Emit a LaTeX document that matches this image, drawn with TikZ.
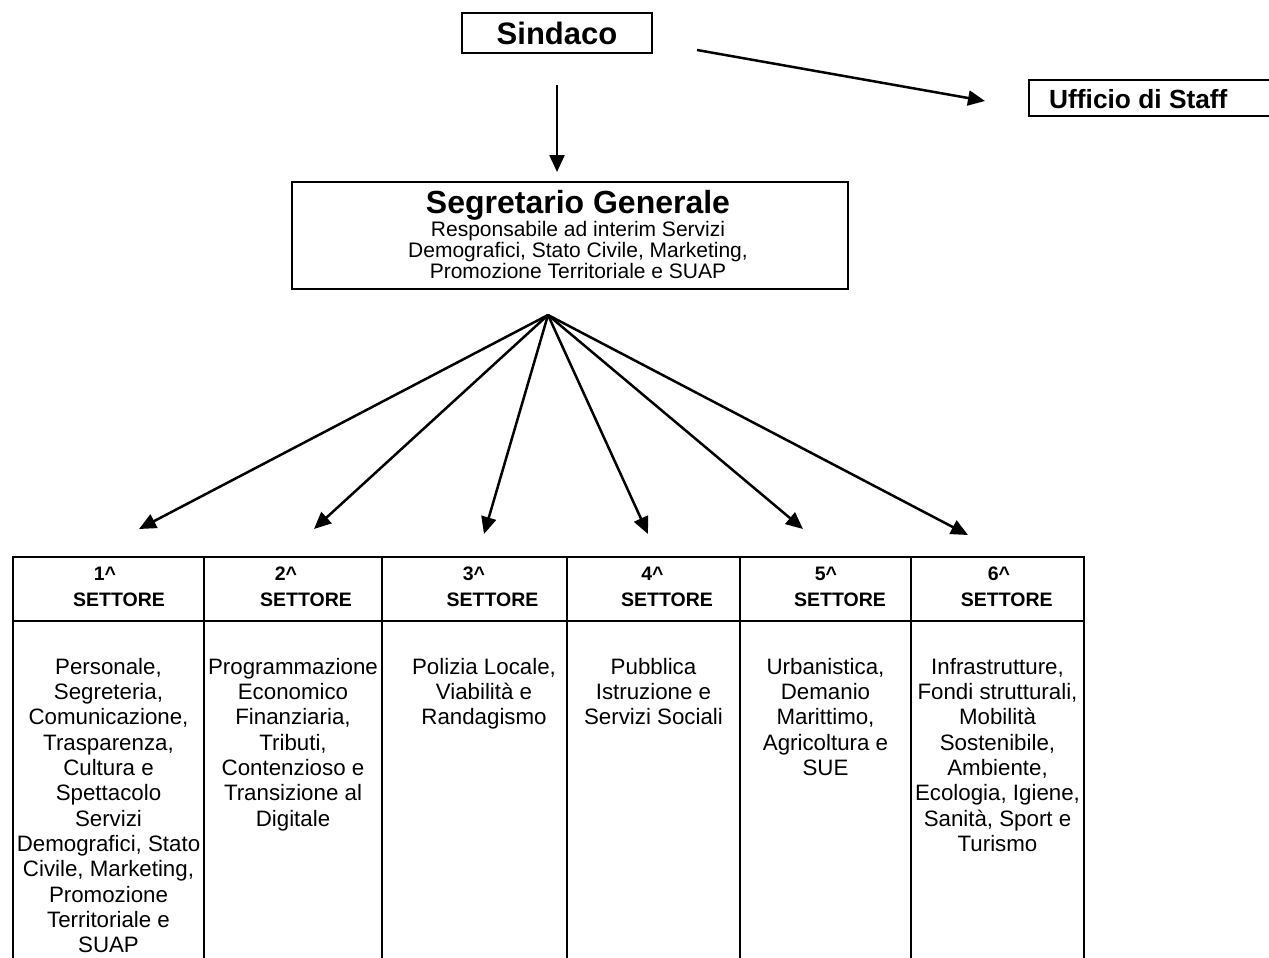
\documentclass[tikz,border=0pt]{standalone}
\usepackage{fontspec}
\setmainfont{Liberation Sans}
\usetikzlibrary{arrows.meta}
\begin{document}
\begin{tikzpicture}[x=1pt,y=-1pt,
  box/.style={draw, line width=2.4pt, inner sep=0pt},
  conn/.style={line width=2.5pt, -{Triangle[length=17pt,width=15pt]}},
  gridline/.style={line width=2.6pt},
  hdr/.style={font=\fontsize{19.5}{22}\selectfont\bfseries, anchor=base, inner sep=0pt},
  body/.style={font=\fontsize{22.3}{25.3}\selectfont, align=center, anchor=north, inner sep=0pt},
  subt/.style={font=\fontsize{21}{20.6}\selectfont, align=center, anchor=north, inner sep=0pt}
]
\useasboundingbox (0,0) rectangle (1269,958);

% Sindaco
\node[box, minimum width=190pt, minimum height=40pt, font=\fontsize{31}{34}\selectfont\bfseries] (sind) at (557,33) {Sindaco};

% Ufficio di Staff
\coordinate (u1) at (1272,80);
\coordinate (u2) at (1029,80);
\coordinate (u3) at (1029,116);
\coordinate (u4) at (1272,116);
\draw[line width=2.4pt] (u1) -- (u2) -- (u3) -- (u4);
\node[anchor=base west, inner sep=0pt, font=\fontsize{26.3}{29}\selectfont\bfseries] (uff) at (1049,108) {Ufficio di Staff};

% Segretario Generale
\node[box, minimum width=556pt, minimum height=107pt] (seg) at (570,235.5) {};
\node[anchor=base, inner sep=0pt, font=\fontsize{32}{35}\selectfont\bfseries] (segt) at (578,213) {Segretario Generale};
\node[subt] (segs) at (578,221.5) {Responsabile ad interim Servizi\\Demografici, Stato Civile, Marketing,\\Promozione Territoriale e SUAP};

% connectors from Sindaco
\coordinate (s1) at (557,85);
\coordinate (s2) at (557,172);
\draw[conn] (s1) -- (s2);
\coordinate (s3) at (697,50);
\coordinate (s4) at (985,101);
\draw[conn] (s3) -- (s4);

% fan from Segretario
\coordinate (hub) at (548,315);
\coordinate (t1) at (139,529);
\coordinate (t2) at (314,529);
\coordinate (t3) at (484,534);
\coordinate (t4) at (648,534);
\coordinate (t5) at (803,529);
\coordinate (t6) at (968,535);
\foreach \t in {t1,t2,t3,t4,t5,t6} \draw[conn] (hub) -- (\t);

% table grid
\coordinate (tl) at (12,557);
\coordinate (tr) at (1085,557);
\coordinate (ml) at (12,621);
\coordinate (mr) at (1085,621);
\draw[gridline] (tl) -- (tr);
\draw[gridline] (ml) -- (mr);
\foreach \xx [count=\i] in {13,204,382,567,740,911,1084} {
  \coordinate (vt\i) at (\xx,556);
  \coordinate (vb\i) at (\xx,962);
  \draw[gridline] (vt\i) -- (vb\i);
}

% headers
\node[hdr] (n1) at (105,580) {1\textasciicircum};
\node[hdr] (h1) at (119,606) {SETTORE};
\node[hdr] (n2) at (286,580) {2\textasciicircum};
\node[hdr] (h2) at (306,606) {SETTORE};
\node[hdr] (n3) at (474,580) {3\textasciicircum};
\node[hdr] (h3) at (492.5,606) {SETTORE};
\node[hdr] (n4) at (652.5,580) {4\textasciicircum};
\node[hdr] (h4) at (667,606) {SETTORE};
\node[hdr] (n5) at (826,580) {5\textasciicircum};
\node[hdr] (h5) at (840,606) {SETTORE};
\node[hdr] (n6) at (999,580) {6\textasciicircum};
\node[hdr] (h6) at (1006.7,606) {SETTORE};

% bodies
\node[body] (b1) at (108.5,658) {Personale,\\Segreteria,\\Comunicazione,\\Trasparenza,\\Cultura e\\Spettacolo\\Servizi\\Demografici, Stato\\Civile, Marketing,\\Promozione\\Territoriale e\\SUAP};
\node[body] (b2) at (293,658) {Programmazione\\Economico\\Finanziaria,\\Tributi,\\Contenzioso e\\Transizione al\\Digitale};
\node[body] (b3) at (484,658) {Polizia Locale,\\Viabilità e\\Randagismo};
\node[body] (b4) at (653.5,658) {Pubblica\\Istruzione e\\Servizi Sociali};
\node[body] (b5) at (825.5,658) {Urbanistica,\\Demanio\\Marittimo,\\Agricoltura e\\SUE};
\node[body] (b6) at (997.5,658) {Infrastrutture,\\Fondi strutturali,\\Mobilità\\Sostenibile,\\Ambiente,\\Ecologia, Igiene,\\Sanità, Sport e\\Turismo};
\end{tikzpicture}
\end{document}
